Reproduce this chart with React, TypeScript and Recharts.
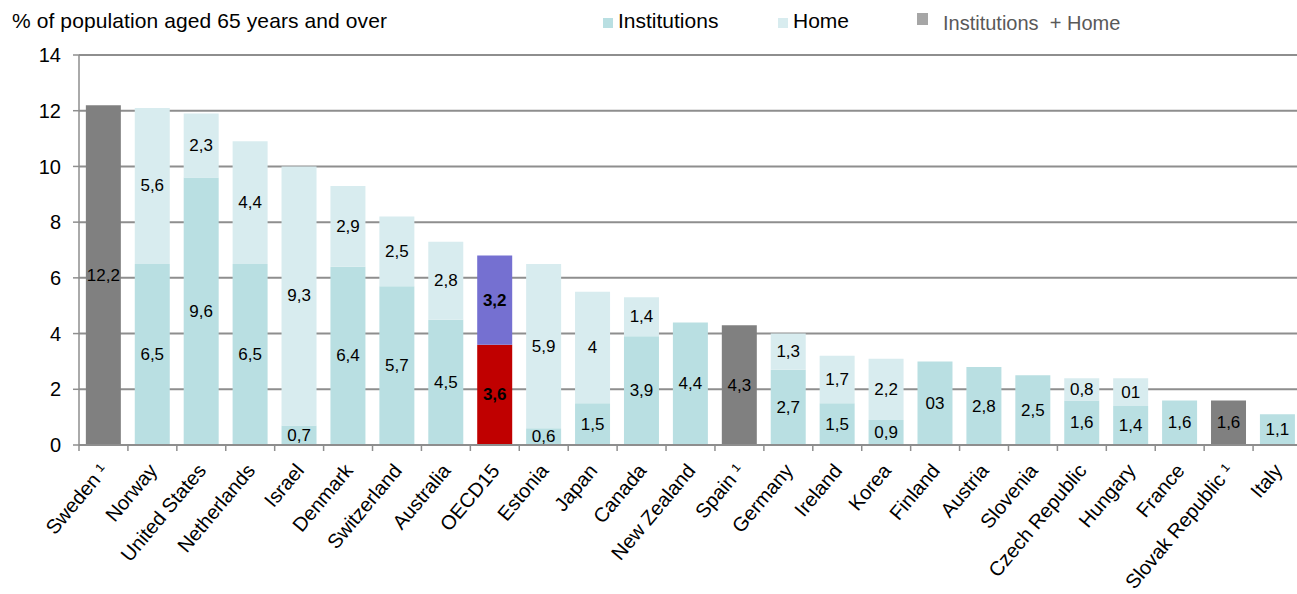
import React from 'react';
import { BarChart, Bar, XAxis, YAxis, CartesianGrid, LabelList, Cell } from 'recharts';

const categories = ['Sweden ¹', 'Norway', 'United States', 'Netherlands', 'Israel', 'Denmark', 'Switzerland', 'Australia', 'OECD15', 'Estonia', 'Japan', 'Canada', 'New Zealand', 'Spain ¹', 'Germany', 'Ireland', 'Korea', 'Finland', 'Austria', 'Slovenia', 'Czech Republic', 'Hungary', 'France', 'Slovak Republic ¹', 'Italy'];
const institutions = [null, 6.5, 9.6, 6.5, 0.7, 6.4, 5.7, 4.5, 3.6, 0.6, 1.5, 3.9, 4.4, null, 2.7, 1.5, 0.9, 3.0, 2.8, 2.5, 1.6, 1.4, 1.6, null, 1.1];
const home = [null, 5.6, 2.3, 4.4, 9.3, 2.9, 2.5, 2.8, 3.2, 5.9, 4.0, 1.4, null, null, 1.3, 1.7, 2.2, null, null, null, 0.8, 1.0, null, null, null];
const combined = [12.2, null, null, null, null, null, null, null, null, null, null, null, null, 4.3, null, null, null, null, null, null, null, null, null, 1.6, null];
const institutionLabels = ['', '6,5', '9,6', '6,5', '0,7', '6,4', '5,7', '4,5', '3,6', '0,6', '1,5', '3,9', '4,4', '', '2,7', '1,5', '0,9', '03', '2,8', '2,5', '1,6', '1,4', '1,6', '', '1,1'];
const homeLabels = ['', '5,6', '2,3', '4,4', '9,3', '2,9', '2,5', '2,8', '3,2', '5,9', '4', '1,4', '', '', '1,3', '1,7', '2,2', '', '', '', '0,8', '01', '', '', ''];
const combinedLabels = ['12,2', '', '', '', '', '', '', '', '', '', '', '', '', '4,3', '', '', '', '', '', '', '', '', '', '1,6', ''];
const yTicks = [0, 2, 4, 6, 8, 10, 12, 14];
const highlightCategory = 'OECD15';

const data = categories.map((c, i) => ({
  name: c,
  inst: institutions[i],
  home: home[i],
  combined: combined[i],
  instLabel: institutionLabels[i],
  homeLabel: homeLabels[i],
  combinedLabel: combinedLabels[i],
}));

const W = 1297;
const H = 594;
const Y_W = 79;
const M_TOP = 55;
const X_H = 149;
const M_RIGHT = -5;
const band = (W - Y_W - M_RIGHT) / categories.length;

const FONT = '"Liberation Sans", Arial, Helvetica, sans-serif';
const AXIS = '#8e8e8e';
const C_INST = '#b9dfe2';
const C_HOME = '#d8ecef';
const C_COMB = '#808080';
const C_RED = '#c00000';
const C_PURPLE = '#7570d1';

const hi = categories.indexOf(highlightCategory);

const labelContent = (props: any) => {
  const { x, y, width, height, value } = props;
  if (value === undefined || value === null || value === '') return null;
  const cx = x + width / 2;
  const idx = Math.floor((cx - Y_W) / band);
  return (
    <text
      x={cx}
      y={y + height / 2}
      textAnchor="middle"
      dominantBaseline="central"
      fontFamily={FONT}
      fontSize={17}
      fontWeight={idx === hi ? 'bold' : 'normal'}
      fill="#000"
    >
      {value}
    </text>
  );
};

const CategoryTick = (props: any) => {
  const { x, y, payload, index } = props;
  const px = x - 5;
  const py = y + 17;
  return (
    <g>
      <line x1={x - band / 2} y1={y} x2={x - band / 2} y2={y + 6} stroke={AXIS} strokeWidth={1.5} />
      {index === categories.length - 1 && (
        <line x1={x + band / 2} y1={y} x2={x + band / 2} y2={y + 6} stroke={AXIS} strokeWidth={1.5} />
      )}
      <text
        x={px}
        y={py}
        dy="0.71em"
        textAnchor="end"
        transform={`rotate(-50 ${px} ${py})`}
        fontFamily={FONT}
        fontSize={20}
        fill="#000"
      >
        {payload.value}
      </text>
    </g>
  );
};

const textStyle = { position: 'absolute' as const, fontFamily: FONT, fontSize: 21, lineHeight: '24px', whiteSpace: 'pre' as const };

export default function App() {
  return (
    <div style={{ position: 'absolute', left: 0, top: 0, width: W, height: H, background: '#fff', overflow: 'hidden' }}>
      <div style={{ ...textStyle, left: 12, top: 9, color: '#000', letterSpacing: '0.1px' }}>
        % of population aged 65 years and over
      </div>
      <div style={{ position: 'absolute', left: 603, top: 18, width: 10, height: 10, background: C_INST }} />
      <div style={{ ...textStyle, left: 618, top: 9, color: '#000' }}>Institutions</div>
      <div style={{ position: 'absolute', left: 778, top: 18, width: 10, height: 10, background: C_HOME }} />
      <div style={{ ...textStyle, left: 793, top: 9, color: '#000' }}>Home</div>
      <div style={{ position: 'absolute', left: 917, top: 13, width: 11, height: 12, background: '#a6a6a6' }} />
      <div style={{ ...textStyle, left: 943, top: 11, fontSize: 20, color: '#595959' }}>Institutions  + Home</div>
      <BarChart
        width={W}
        height={H}
        data={data}
        margin={{ top: M_TOP, right: M_RIGHT, bottom: 0, left: 0 }}
        barCategoryGap="14%"
      >
        <CartesianGrid vertical={false} stroke={AXIS} strokeWidth={2} />
        <YAxis
          width={Y_W}
          domain={[0, 14]}
          ticks={yTicks}
          interval={0}
          tickSize={6}
          tickMargin={12}
          axisLine={{ stroke: AXIS, strokeWidth: 1.5 }}
          tickLine={{ stroke: AXIS, strokeWidth: 1.5 }}
          tick={{ fontFamily: FONT, fontSize: 20, fill: '#000' }}
        />
        <XAxis
          dataKey="name"
          height={X_H}
          interval={0}
          tickSize={0}
          tickMargin={0}
          tickLine={false}
          axisLine={{ stroke: AXIS, strokeWidth: 2 }}
          tick={<CategoryTick />}
        />
        <Bar dataKey="inst" stackId="s" fill={C_INST} isAnimationActive={false}>
          {data.map((d, i) => (
            <Cell key={i} fill={i === hi ? C_RED : C_INST} />
          ))}
          <LabelList dataKey="instLabel" content={labelContent} />
        </Bar>
        <Bar dataKey="home" stackId="s" fill={C_HOME} isAnimationActive={false}>
          {data.map((d, i) => (
            <Cell key={i} fill={i === hi ? C_PURPLE : C_HOME} />
          ))}
          <LabelList dataKey="homeLabel" content={labelContent} />
        </Bar>
        <Bar dataKey="combined" stackId="s" fill={C_COMB} isAnimationActive={false}>
          <LabelList dataKey="combinedLabel" content={labelContent} />
        </Bar>
      </BarChart>
    </div>
  );
}
